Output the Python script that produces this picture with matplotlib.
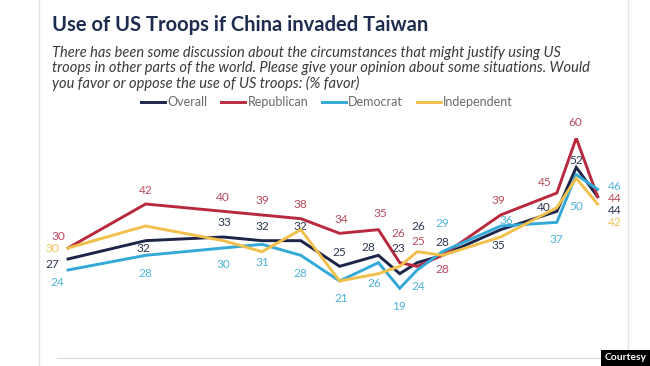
import matplotlib
matplotlib.use("Agg")
import matplotlib.pyplot as plt
from matplotlib.lines import Line2D

plt.rcParams['font.family'] = ['Lato', 'DejaVu Sans']

# survey waves, placed along a time axis (relative units)
wave_pos = [0, 4, 8, 10, 12, 14, 16, 17.1, 18, 19.3, 22.3, 25.2, 26.2, 27.3]

overall = [27, 32, 33, 32, 32, 25, 28, 23, 26, 28, 35, 40, 52, 44]
republican = [30, 42, 40, 39, 38, 34, 35, 26, 25, 28, 39, 45, 60, 44]
democrat = [24, 28, 30, 31, 28, 21, 26, 19, 24, 29, 36, 37, 50, 46]
independent = [30, 36, 32, 29, 35, 21, 23, 25, 29, 28, 33, 41, 49, 42]

series_names = ["Overall", "Republican", "Democrat", "Independent"]
line_colors = ["#1c2549", "#b8293d", "#34a9d8", "#f0c04a"]
label_colors = ["#2d3650", "#b84a5e", "#4fb3d9", "#ecc35c"]

# label offsets in pixels (dx, dy) per point; None = no label
navy_off = [(-16, -5), (-2, -8), (1, 14), (0, 14), (0, 14), (0, 14), (-10, 8), (-1, 25),
            (1, 36), (0, 13), (-2, -16), (-13, 4), (0, 7), (17, -13.5)]
red_off = [(-10, 12), (0, 14), (0, 14), (0, 14), (0, 14), (2, 14), (2, 16), (-1, 29),
           (1, 25), (0, -14), (-2, 14), (-12, 10), (-1, 15), (17, -2)]
blue_off = [(-11, -13), (0, -18), (0, -17), (0, -18), (0, -18), (2, -18), (-4, -21), (-1, -18),
            (1, -17), (0, 28), (6, 6), (0, -17), (0, -32), (17, 2.5)]
yellow_off = [(-16, 0)] + [None] * 12 + [(17, -18)]

W, H = 650, 366
fig = plt.figure(figsize=(W / 100, H / 100), dpi=100)

# card borders
fig.add_artist(Line2D([39 / W, 39 / W], [0, 1], color="#e4e4e4", lw=1))
fig.add_artist(Line2D([628 / W, 628 / W], [0, 1], color="#e4e4e4", lw=1))

fig.text(52 / W, 1 - 25 / H, "Use of US Troops if China invaded Taiwan",
         fontsize=14.5, fontweight="bold", color="#1e2d4f", va="center")
fig.text(52 / W, 1 - 46 / H,
         "There has been some discussion about the circumstances that might justify using US\n"
         "troops in other parts of the world. Please give your opinion about some situations. Would\n"
         "you favor or oppose the use of US troops: (% favor)",
         fontsize=10.5, style="italic", color="#3a3a3a", va="top", linespacing=1.08)

ax = fig.add_axes([57 / W, 8 / H, 553 / W, 220 / H])
all_series = [overall, republican, democrat, independent]
all_off = [navy_off, red_off, blue_off, yellow_off]
draw_order = [3, 2, 0, 1]
for i in draw_order:
    ax.plot(wave_pos, all_series[i], color=line_colors[i], lw=2.1, solid_joinstyle="miter",
            zorder=2 + i, label=series_names[i])

for i in range(4):
    for x, v, off in zip(wave_pos, all_series[i], all_off[i]):
        if off is None:
            continue
        ax.annotate(str(v), (x, v), xytext=(off[0] * 0.72, off[1] * 0.72),
                    textcoords="offset points", ha="center", va="center",
                    fontsize=8.6, color=label_colors[i], annotation_clip=False)

ax.set_xlim(-0.57, 27.94)
ax.set_ylim(0, 60)
for s in ["top", "left", "right"]:
    ax.spines[s].set_visible(False)
ax.spines["bottom"].set_color("#dcdcdc")
ax.set_xticks([])
ax.set_yticks([])

handles = [Line2D([0], [0], color=c, lw=2.1) for c in line_colors]
fig.legend(handles, series_names, loc="center", bbox_to_anchor=(327 / W, 1 - 102 / H),
           ncol=4, frameon=False, fontsize=9, handlelength=1.9, handletextpad=0.2,
           columnspacing=1.1, labelcolor="#6a6a6a")

fig.text(626 / W, 8 / H, "Courtesy", fontsize=7.5, fontweight="bold", color="white",
         ha="center", va="center",
         bbox=dict(boxstyle="square,pad=0.35", fc="black", ec="none"))

fig.savefig("out.png", dpi=100)
